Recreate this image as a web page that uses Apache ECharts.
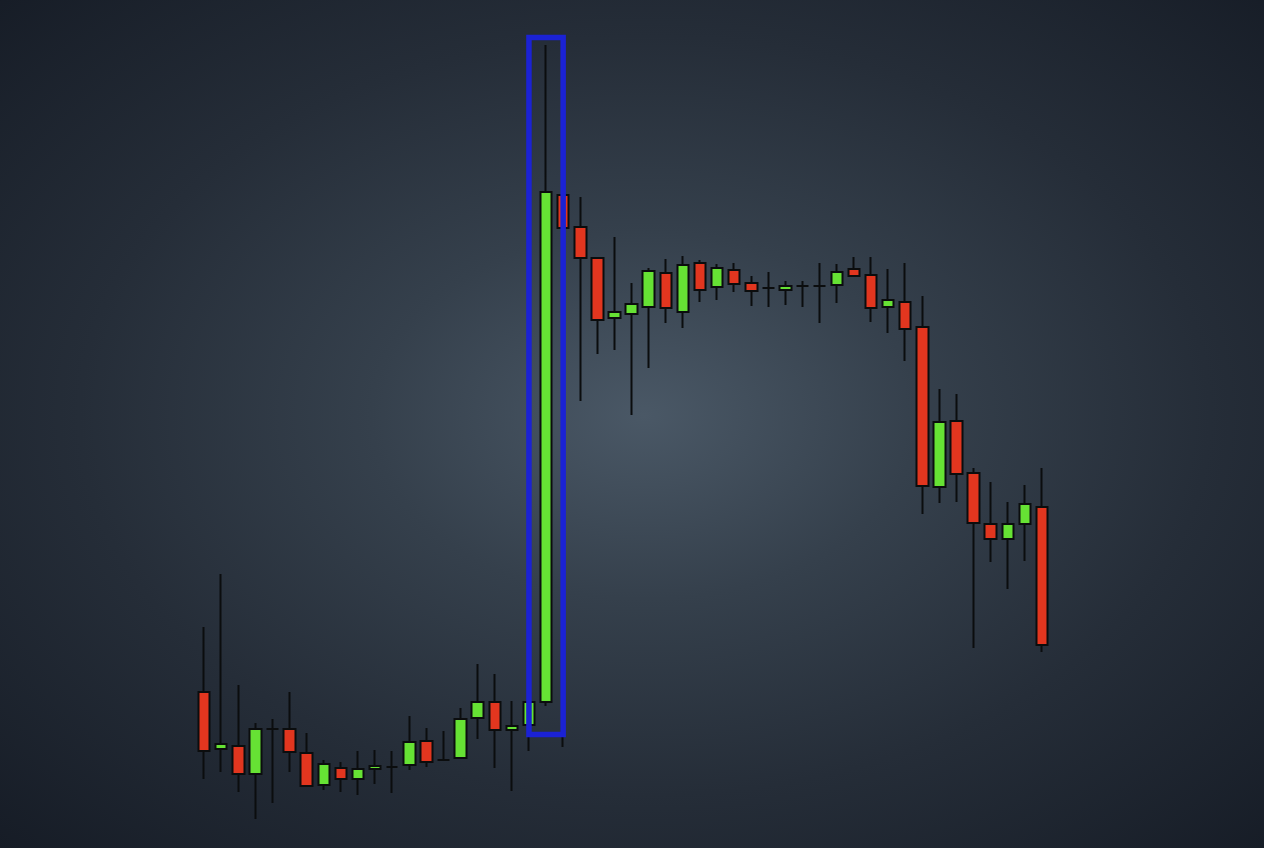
<!DOCTYPE html>
<html>
<head>
<meta charset="utf-8">
<script src="https://cdn.jsdelivr.net/npm/echarts@6/dist/echarts.min.js"></script>
<style>
  html, body { margin: 0; padding: 0; width: 1264px; height: 848px; overflow: hidden; }
  #chart { width: 1264px; height: 848px;
    background: radial-gradient(ellipse at 51% 49%, #4a5866 0%, #35404c 30%, #252d38 62%, #161c26 100%); }
</style>
</head>
<body>
<div id="chart"></div>
<script>
// Candle index labels
const categories = Array.from({length: 50}, (_, i) => String(i + 1));
// Values per candle, in chart units
const opens  = [15.8,10.1,10.4,7.6,12.1,12.1,9.7,6.5,8.2,7.1,8.1,8.3,8.5,10.9,9.0,9.2,13.2,14.8,12.0,12.5,
                14.8,65.5,62.3,59.2,53.2,53.6,54.3,57.7,53.8,58.7,56.3,58.0,56.7,56.2,56.0,56.4,56.4,56.5,58.1,57.5,
                54.3,54.8,52.3,36.3,42.9,37.7,32.6,31.1,32.6,34.3];
const closes = [9.9,10.6,7.6,12.1,12.1,9.8,6.4,8.6,7.1,8.1,8.4,8.3,10.8,8.8,9.0,13.1,14.8,12.0,12.4,14.8,
                65.8,62.2,59.2,53.0,53.8,54.6,57.9,54.2,58.5,56.0,58.2,56.6,55.9,56.2,56.4,56.4,56.4,57.8,57.4,54.2,
                55.0,52.1,36.4,42.8,37.6,32.7,31.1,32.6,34.6,20.5];
const lows   = [7.1,7.8,5.8,3.1,4.7,7.8,6.4,6.0,5.8,5.5,6.6,5.7,8.0,8.3,9.0,9.2,11.1,8.2,5.9,9.9,
                14.4,10.3,44.9,49.6,50.0,43.5,48.2,52.7,52.2,54.8,55.0,55.8,54.4,54.3,54.5,54.3,52.7,54.7,57.3,52.8,
                51.7,48.9,33.6,34.7,34.8,20.2,28.8,26.1,28.9,19.8];
const highs  = [22.3,27.6,16.5,12.7,13.1,15.8,11.7,9.0,8.8,9.9,10.0,9.9,13.4,12.2,11.9,14.2,18.6,17.6,14.9,15.2,
                80.5,68.1,65.3,59.2,61.3,56.7,58.2,59.1,59.4,59.0,58.6,58.7,57.4,57.8,56.9,56.9,58.7,58.6,59.3,59.3,
                58.1,58.7,55.4,46.1,45.6,38.2,36.8,34.8,36.5,38.2];
// Highlight box: from category to category, top and bottom values
const boxFrom = '20', boxTo = '22';
const boxTop = 81.25, boxBottom = 11.55;

const ohlc = categories.map((c, i) => [opens[i], closes[i], lows[i], highs[i]]);

const chart = echarts.init(document.getElementById('chart'), null, {renderer: 'canvas'});
chart.setOption({
  backgroundColor: 'transparent',
  animation: false,
  grid: { left: 195.5, right: 213.5, top: 0, bottom: 0 },
  xAxis: { type: 'category', data: categories, show: false, boundaryGap: true },
  yAxis: { type: 'value', min: 0.2, max: 85, show: false, splitLine: { show: false } },
  series: [
    {
      type: 'candlestick',
      data: ohlc,
      barWidth: 12,
      z: 2,
      itemStyle: {
        color: '#66e234',
        color0: '#e2361f',
        borderColor: '#0b0d0e',
        borderColor0: '#0b0d0e',
        borderColorDoji: '#0b0d0e',
        borderWidth: 2
      }
    },
    {
      type: 'line',
      data: [],
      z: 10,
      silent: true,
      markArea: {
        silent: true,
        z: 20,
        itemStyle: { color: 'rgba(0,0,0,0)', borderColor: '#1b22d4', borderWidth: 5.5 },
        data: [[{ xAxis: boxFrom, yAxis: boxTop }, { xAxis: boxTo, yAxis: boxBottom }]]
      }
    }
  ]
});
</script>
</body>
</html>
